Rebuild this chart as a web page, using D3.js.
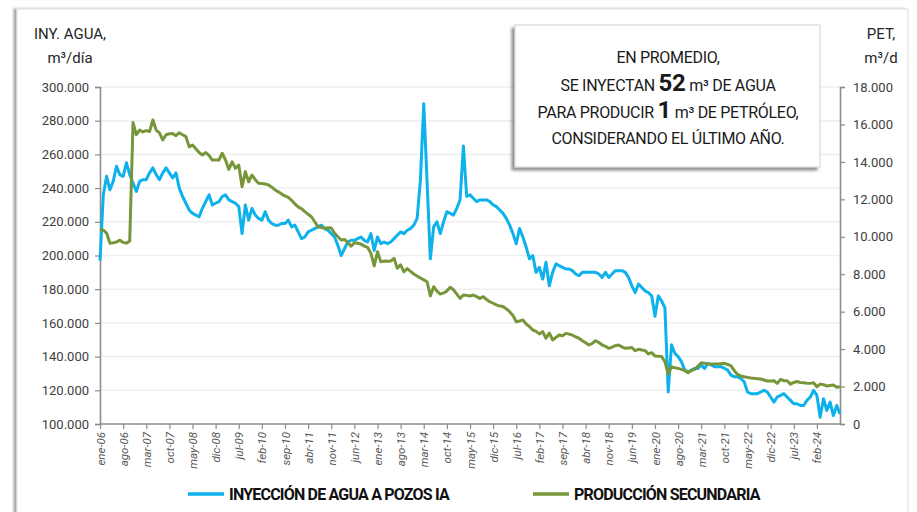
<!DOCTYPE html>
<html>
<head>
<meta charset="utf-8">
<script src="https://cdn.jsdelivr.net/npm/d3@7"></script>
<style>
  body { margin: 0; background: #fff; }
  svg { display: block; font-family: Roboto, "Noto Sans", sans-serif; }
</style>
</head>
<body>
<script>
// Inyección de agua (miles de m3/d), mensual ene-06 .. sep-24
const injection = [
  197, 236, 247, 239, 244, 253, 248, 247, 255, 248, 243, 238,
  244, 245, 245, 249, 252, 248, 245, 249, 252, 249, 246, 249,
  240, 235, 231, 227, 225, 224, 223, 228, 232, 236, 230, 231,
  232, 235, 236, 233, 232, 231, 229, 213, 230, 221, 228, 224,
  222, 221, 226, 221, 219, 218, 218, 219, 219, 221, 217, 218,
  214, 210, 211, 214, 215, 216, 217, 218, 216, 215, 213, 211,
  206, 200, 204, 208, 209, 209, 210, 211, 209, 208, 213, 203,
  211, 207, 208, 207, 208, 210, 212, 214, 213, 215, 216, 218,
  222, 245, 290, 244, 198, 217, 220, 213, 220, 226, 225, 224,
  228, 233, 265, 235, 236, 234, 232, 233, 233, 233, 232, 230,
  229, 227, 225, 222, 218, 213, 207, 216, 211, 205, 198, 200,
  190, 193, 186, 196, 182, 190, 195, 194, 193, 192, 192, 191,
  189, 188, 190, 190, 190, 190, 190, 189, 187, 190, 187, 189,
  191, 191, 191, 190, 187, 182, 178, 183, 181, 179, 178, 176,
  164, 176, 173, 169, 119, 147, 142, 140, 137, 132, 131, 132,
  133, 133, 135, 133, 136, 135, 134, 134, 134, 133, 132, 129,
  128, 128, 127, 125, 119, 118, 118, 118, 119, 120, 119, 116,
  113, 116, 117, 118, 116, 114, 112, 112, 111, 111, 114, 116,
  120, 117, 104, 115, 108, 113, 105, 111, 106
];

// Producción secundaria de petróleo (miles de m3/d)
const production = [
  10.4, 10.35, 10.2, 9.65, 9.68, 9.72, 9.82, 9.7, 9.66, 9.78, 16.1, 15.45,
  15.7, 15.6, 15.67, 15.62, 16.24, 15.7, 15.55, 15.17, 15.45, 15.5, 15.52, 15.4,
  15.56, 15.45, 15.35, 14.8, 14.9, 14.7, 14.5, 14.37, 14.5, 14.35, 14.1, 14.1,
  14.1, 14.46, 14.1, 13.6, 14.0, 13.66, 13.83, 12.67, 13.48, 12.94, 13.3, 13.05,
  12.86, 12.84, 12.82, 12.77, 12.65, 12.5, 12.4, 12.28, 12.18, 12.1, 11.95, 11.75,
  11.6, 11.5, 11.34, 11.2, 11.07, 10.8, 10.54, 10.5, 10.45, 10.48, 10.47, 10.19,
  10.0, 9.83, 9.86, 9.7, 9.5, 9.68, 9.65, 9.61, 9.5, 9.43, 9.12, 8.44,
  9.2, 8.67, 8.7, 8.69, 8.7, 8.85, 8.32, 8.5, 8.13, 8.3, 8.15, 8.01,
  7.9, 7.8, 7.7, 7.6, 6.84, 7.33, 7.1, 6.94, 7.0, 7.1, 7.3, 7.17,
  6.94, 6.71, 6.89, 6.87, 6.84, 6.89, 6.8, 6.71, 6.8, 6.65, 6.53, 6.45,
  6.36, 6.3, 6.28, 6.15, 6.0, 5.8, 5.46, 5.5, 5.56, 5.34, 5.2, 5.02,
  4.95, 4.81, 4.93, 4.58, 4.86, 4.49, 4.62, 4.75, 4.71, 4.84, 4.8, 4.75,
  4.65, 4.58, 4.45, 4.34, 4.22, 4.3, 4.45, 4.35, 4.22, 4.15, 4.04, 4.1,
  4.18, 4.22, 4.12, 4.04, 4.06, 4.08, 3.92, 3.99, 3.95, 3.92, 3.74, 3.81,
  3.63, 3.62, 3.6, 3.33, 2.67, 3.06, 3.0, 2.97, 2.92, 2.85, 2.74, 2.85,
  2.92, 3.1, 3.27, 3.25, 3.2, 3.2, 3.2, 3.2, 3.22, 3.24, 3.18, 3.1,
  2.85, 2.65, 2.56, 2.52, 2.49, 2.46, 2.44, 2.42, 2.4, 2.35, 2.3, 2.3,
  2.31, 2.17, 2.38, 2.31, 2.31, 2.13, 2.22, 2.27, 2.22, 2.2, 2.18, 2.17,
  2.2, 1.99, 2.13, 2.1, 2.03, 2.06, 2.08, 1.96, 1.99
];

const monthNames = ["ene", "feb", "mar", "abr", "may", "jun", "jul", "ago", "sep", "oct", "nov", "dic"];
const xTickLabels = [
  "ene-06", "ago-06", "mar-07", "oct-07", "may-08", "dic-08", "jul-09", "feb-10",
  "sep-10", "abr-11", "nov-11", "jun-12", "ene-13", "ago-13", "mar-14", "oct-14",
  "may-15", "dic-15", "jul-16", "feb-17", "sep-17", "abr-18", "nov-18", "jun-19",
  "ene-20", "ago-20", "mar-21", "oct-21", "may-22", "dic-22", "jul-23", "feb-24"
];
const leftTicks = [100, 120, 140, 160, 180, 200, 220, 240, 260, 280, 300];
const rightTicks = [0, 2, 4, 6, 8, 10, 12, 14, 16, 18];
const legendLabels = ["INYECCIÓN DE AGUA A POZOS IA", "PRODUCCIÓN SECUNDARIA"];

// month categories
const months = injection.map((d, i) =>
  monthNames[i % 12] + "-" + String(6 + Math.floor(i / 12)).padStart(2, "0"));

const width = 917, height = 512;
const blue = "#0db1ec", green = "#77963a";
const fmt = d3.formatLocale({decimal: ",", thousands: ".", grouping: [3], currency: ["$", ""]}).format(",d");

const svg = d3.select("body").append("svg").attr("width", width).attr("height", height);
const defs = svg.append("defs");
const sh = defs.append("filter").attr("id", "sh").attr("x", "-10%").attr("y", "-10%").attr("width", "120%").attr("height", "130%");
sh.append("feDropShadow").attr("dx", -3).attr("dy", 3).attr("stdDeviation", 1.6).attr("flood-color", "#000").attr("flood-opacity", 0.45);
const sh2 = defs.append("filter").attr("id", "sh2").attr("x", "-5%").attr("y", "-5%").attr("width", "110%").attr("height", "110%");
sh2.append("feDropShadow").attr("dx", -3).attr("dy", 0).attr("stdDeviation", 1.2).attr("flood-color", "#000").attr("flood-opacity", 0.35);

// outer card
svg.append("rect").attr("x", 17).attr("y", 9).attr("width", 891).attr("height", 520)
  .attr("fill", "#fff").attr("stroke", "#dcdcdc").attr("filter", "url(#sh2)");

const x = d3.scalePoint().domain(months).range([100, 840]);
const yL = d3.scaleLinear().domain([100, 300]).range([424, 87]);
const yR = d3.scaleLinear().domain([0, 18]).range([424, 87]);

// gridlines
svg.append("g").selectAll("line").data(leftTicks.slice(1)).join("line")
  .attr("x1", 100).attr("x2", 840)
  .attr("y1", d => yL(d)).attr("y2", d => yL(d))
  .attr("stroke", "#efefef").attr("stroke-width", 1.5);

// axes
const axisL = svg.append("g").attr("transform", "translate(100,0)")
  .call(d3.axisLeft(yL).tickValues(leftTicks).tickSize(5).tickPadding(6).tickFormat(d => fmt(d * 1000)));
const axisR = svg.append("g").attr("transform", "translate(840,0)")
  .call(d3.axisRight(yR).tickValues(rightTicks).tickSize(5).tickPadding(8).tickFormat(d => fmt(d * 1000)));
const axisB = svg.append("g").attr("transform", "translate(0,424)")
  .call(d3.axisBottom(x).tickValues(xTickLabels).tickSize(5).tickSizeOuter(0));
axisB.select(".domain").attr("d", "M100,0H840");

[axisL, axisR, axisB].forEach(g => {
  g.select(".domain").attr("stroke", "#8c8c8c").attr("stroke-width", 1.6);
  g.selectAll(".tick line").attr("stroke", "#8c8c8c").attr("stroke-width", 1.2);
  g.selectAll("text").attr("fill", "#404040").attr("font-size", 13).attr("font-family", "Roboto, sans-serif");
});
axisB.selectAll("text")
  .attr("font-size", 11.5).attr("fill", "#595959")
  .attr("transform", "rotate(-90)")
  .attr("text-anchor", "end").attr("x", -8).attr("y", 0).attr("dy", "0.35em")
  .style("font-style", "italic");

// lines
const lineL = d3.line().x((d, i) => x(months[i])).y(d => yL(d));
const lineR = d3.line().x((d, i) => x(months[i])).y(d => yR(d));
svg.append("path").datum(injection).attr("d", lineL)
  .attr("fill", "none").attr("stroke", blue).attr("stroke-width", 3).attr("stroke-linejoin", "round");
svg.append("path").datum(production).attr("d", lineR)
  .attr("fill", "none").attr("stroke", green).attr("stroke-width", 3).attr("stroke-linejoin", "round");

// axis titles
const titles = svg.append("g").attr("fill", "#262626").attr("font-size", 15).attr("text-anchor", "middle");
titles.append("text").attr("x", 70).attr("y", 39).text("INY. AGUA,");
titles.append("text").attr("x", 70).attr("y", 63).text("m³/día");
titles.append("text").attr("x", 881).attr("y", 39).text("PET,");
titles.append("text").attr("x", 881).attr("y", 63).text("m³/d");

// annotation box
svg.append("rect").attr("x", 515).attr("y", 25).attr("width", 305).attr("height", 142)
  .attr("fill", "#fff").attr("stroke", "#d0d0d0").attr("filter", "url(#sh)");
const note = svg.append("g").attr("fill", "#1a1a1a").attr("font-size", 16)
  .attr("text-anchor", "middle").style("letter-spacing", "-0.3px");
note.append("text").attr("x", 668).attr("y", 63).text("EN PROMEDIO,");
const l2 = note.append("text").attr("x", 668).attr("y", 91);
l2.append("tspan").text("SE INYECTAN ");
l2.append("tspan").attr("font-size", 24).attr("font-weight", "bold").text("52");
l2.append("tspan").text(" m³ DE AGUA");
const l3 = note.append("text").attr("x", 668).attr("y", 118);
l3.append("tspan").text("PARA PRODUCIR ");
l3.append("tspan").attr("font-size", 24).attr("font-weight", "bold").text("1");
l3.append("tspan").text(" m³ DE PETRÓLEO,");
note.append("text").attr("x", 668).attr("y", 144).text("CONSIDERANDO EL ÚLTIMO AÑO.");

// legend
const legend = svg.append("g");
[[188, blue], [533, green]].forEach(([lx, c], i) => {
  legend.append("line").attr("x1", lx).attr("x2", lx + 36).attr("y1", 494).attr("y2", 494)
    .attr("stroke", c).attr("stroke-width", 3.5);
  legend.append("text").attr("x", lx + 41).attr("y", 500)
    .attr("font-size", 16).attr("font-weight", "bold").attr("fill", "#111")
    .style("letter-spacing", "-0.8px").text(legendLabels[i]);
});
</script>
</body>
</html>
